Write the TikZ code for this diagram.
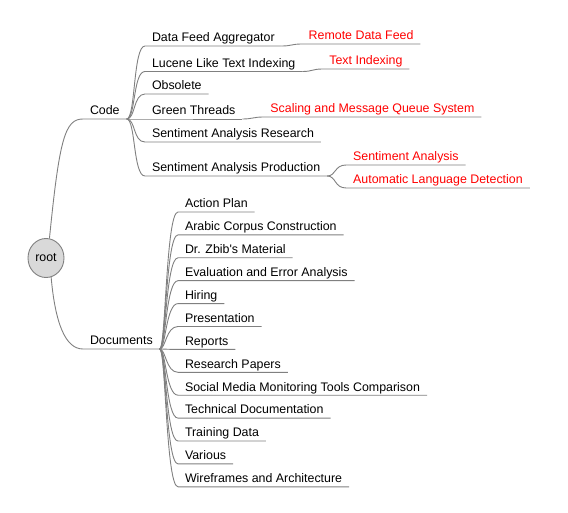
\documentclass[tikz,border=0pt]{standalone}
\usepackage{fontspec}
\newfontfamily\mapfont{Liberation Sans}
\usetikzlibrary{shapes.geometric}
\definecolor{linegray}{RGB}{128,128,128}
\definecolor{rootfill}{RGB}{217,217,217}
\definecolor{leafred}{RGB}{255,0,0}
\begin{document}
\begin{tikzpicture}[x=1pt,y=-1pt,
  topic/.style={anchor=south west,inner xsep=6.8pt,inner ysep=4pt,text depth=0pt,
    font=\mapfont\fontsize{12.4}{14}\selectfont},
  subtopic/.style={topic,text=leafred},
  link/.style={draw=linegray,line width=0.9pt}]
\useasboundingbox (0,0) rectangle (568,513);
\node[ellipse,draw=linegray,fill=rootfill,line width=0.9pt,minimum width=36pt,minimum height=39pt,
  inner sep=0pt,font=\mapfont\fontsize{12.4}{14}\selectfont] (root) at (46,258) {root};
\node[topic] (code) at (83,119) {Code};
\node[topic] (docs) at (83,349) {Documents};
\draw[link] (root.80) .. controls +(10,-100) and +(-18,0) .. (code.south west) -- (code.south east);
\draw[link] (root.-75) .. controls +(4,45) and +(-18,0) .. (docs.south west) -- (docs.south east);
% code branch
\node[topic] (dfa) at (145,46) {Data Feed Aggregator};
\node[topic] (lucene) at (145,71.5) {Lucene Like Text Indexing};
\node[topic] (obsolete) at (145,94) {Obsolete};
\node[topic] (green) at (145,119) {Green Threads};
\node[topic] (research) at (145,142) {Sentiment Analysis Research};
\node[topic] (production) at (145,176) {Sentiment Analysis Production};
\foreach \n in {dfa,lucene,obsolete,green,research,production}
  \draw[link] (code.south east) .. controls +(9,0) and +(-12,0) .. (\n.south west) -- (\n.south east);
\node[subtopic] (remote) at ([shift={(20,-2)}]dfa.south east) {Remote Data Feed};
\node[subtopic] (textidx) at ([shift={(20,-2.5)}]lucene.south east) {Text Indexing};
\node[subtopic] (queue) at ([shift={(21,-2)}]green.south east) {Scaling and Message Queue System};
\node[subtopic] (sa) at ([shift={(19,-11)}]production.south east) {Sentiment Analysis};
\node[subtopic] (lang) at ([shift={(19,12)}]production.south east) {Automatic Language Detection};
\draw[link] (dfa.south east) .. controls +(10,0) and +(-10,0) .. (remote.south west) -- (remote.south east);
\draw[link] (lucene.south east) .. controls +(10,0) and +(-10,0) .. (textidx.south west) -- (textidx.south east);
\draw[link] (green.south east) .. controls +(10,0) and +(-10,0) .. (queue.south west) -- (queue.south east);
\draw[link] (production.south east) .. controls +(9,0) and +(-12,0) .. (sa.south west) -- (sa.south east);
\draw[link] (production.south east) .. controls +(9,0) and +(-12,0) .. (lang.south west) -- (lang.south east);
% documents branch
\foreach \n/\t [count=\i from 0] in {plan/Action Plan,arabic/Arabic Corpus Construction,
    zbib/Dr. Zbib's Material,evaluation/Evaluation and Error Analysis,hiring/Hiring,
    presentation/Presentation,reports/Reports,papers/Research Papers,
    social/Social Media Monitoring Tools Comparison,technical/Technical Documentation,
    training/Training Data,various/Various,wireframes/Wireframes and Architecture}{
  \node[topic] (\n) at (178,{212+22.9*\i}) {\t};
  \draw[link] (docs.south east) .. controls +(6,0) and +(-12,0) .. (\n.south west) -- (\n.south east);
}
\end{tikzpicture}
\end{document}
